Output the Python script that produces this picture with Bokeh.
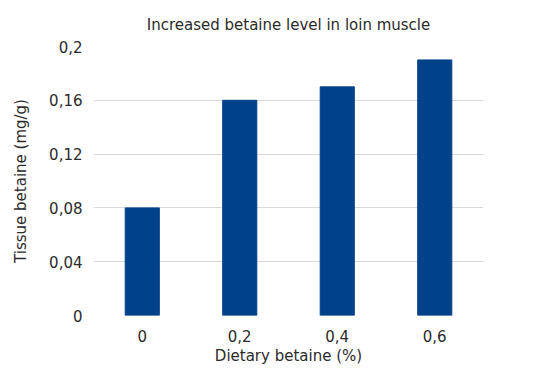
from bokeh.plotting import figure
from bokeh.models import Range1d, FixedTicker, CustomJSTickFormatter, ColumnDataSource
from bokeh.embed import file_html
from bokeh.resources import INLINE

categories = ["0", "0,2", "0,4", "0,6"]
values = [0.08, 0.16, 0.17, 0.19]
y_ticks = [0, 0.04, 0.08, 0.12, 0.16, 0.2]
title_text = "Increased betaine level in loin muscle"

FONT = "DejaVu Sans"
TXT = "#2b2b2b"

src = ColumnDataSource(dict(x=categories, y=values))

p = figure(x_range=categories, y_range=Range1d(0, 0.2),
           frame_width=390, frame_height=269, output_backend="svg", toolbar_location=None,
           min_border_left=93, min_border_right=59, min_border_top=0, min_border_bottom=45)

p.vbar(x="x", top="y", width=0.35, source=src, color="#00428A")

p.title.text = title_text
p.title.align = "center"
p.title.text_font = FONT
p.title.text_font_size = "15px"
p.title.text_font_style = "normal"
p.title.text_color = TXT
p.title.standoff = 26

p.outline_line_color = None
p.xgrid.grid_line_color = None
p.ygrid.grid_line_color = "#D9D9D9"
p.ygrid.grid_line_width = 1

p.yaxis.ticker = FixedTicker(ticks=y_ticks)
p.yaxis.formatter = CustomJSTickFormatter(code="""
var s = tick.toFixed(2).replace(/0+$/, '').replace(/\\.$/, '');
return s.replace('.', ',');
""")

for ax in (p.xaxis, p.yaxis):
    ax.axis_line_color = None
    ax.major_tick_line_color = None
    ax.minor_tick_line_color = None
    ax.major_label_text_font = FONT
    ax.major_label_text_font_size = "15px"
    ax.major_label_text_color = TXT
    ax.axis_label_text_font = FONT
    ax.axis_label_text_font_size = "15px"
    ax.axis_label_text_font_style = "normal"
    ax.axis_label_text_color = TXT

p.xaxis.axis_label = "Dietary betaine (%)"
p.yaxis.axis_label = "Tissue betaine (mg/g)"
p.yaxis.major_label_standoff = 5
p.xaxis.major_label_standoff = 8
p.xaxis.axis_label_standoff = 2
p.yaxis.axis_label_standoff = 16

open("out.html", "w").write(file_html(p, INLINE))
